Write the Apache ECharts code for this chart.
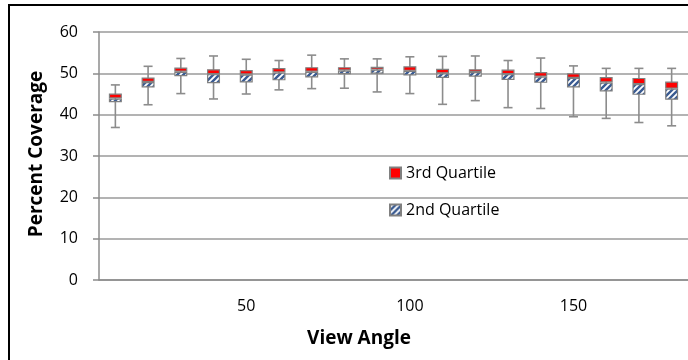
<!DOCTYPE html>
<html>
<head>
<meta charset="utf-8">
<script src="https://cdn.jsdelivr.net/npm/echarts@6/dist/echarts.min.js"></script>
<style>html,body{margin:0;padding:0;background:#fff;}#c{width:688px;height:360px;}</style>
</head>
<body>
<div id="c"></div>
<script>
var angles = ['10','20','30','40','50','60','70','80','90','100','110','120','130','140','150','160','170','180'];
var whiskerHigh = [47.2, 51.7, 53.6, 54.2, 53.4, 53.1, 54.4, 53.5, 53.5, 54.0, 54.1, 54.2, 53.1, 53.7, 51.8, 51.2, 51.2, 51.2];
var whiskerLow  = [36.9, 42.4, 45.1, 43.8, 45.0, 46.0, 46.3, 46.4, 45.5, 45.1, 42.5, 43.4, 41.7, 41.5, 39.5, 39.1, 38.1, 37.3];
var q3     = [45.1, 49.0, 51.4, 51.0, 50.8, 51.3, 51.5, 51.5, 51.6, 51.7, 51.1, 51.0, 50.9, 50.3, 50.0, 49.1, 48.9, 48.0];
var median = [43.9, 47.9, 50.4, 49.8, 49.7, 50.2, 50.4, 50.7, 50.9, 50.6, 50.0, 50.3, 49.8, 49.2, 48.9, 47.8, 47.4, 46.3];
var q1     = [43.0, 46.6, 49.3, 47.6, 47.8, 48.3, 49.0, 49.8, 49.9, 49.5, 48.9, 49.2, 48.4, 47.7, 46.6, 45.6, 44.8, 43.6];
var xTickLabels = ['50','100','150'];
var yTicks = [0,10,20,30,40,50,60];

var FONT = '"Open Sans", sans-serif';
var hatch = document.createElement('canvas');
hatch.width = 6; hatch.height = 6;
(function(){
  var g = hatch.getContext('2d');
  g.fillStyle = '#ffffff'; g.fillRect(0,0,6,6);
  g.strokeStyle = '#3a5b92'; g.lineWidth = 2.4;
  g.beginPath();
  g.moveTo(-3,3); g.lineTo(3,-3);
  g.moveTo(0,6); g.lineTo(6,0);
  g.moveTo(3,9); g.lineTo(9,3);
  g.stroke();
})();

var secondQ = q1.map(function(v,i){ return +(median[i]-v).toFixed(2); });
var thirdQ = median.map(function(v,i){ return +(q3[i]-v).toFixed(2); });

var chart = echarts.init(document.getElementById('c'), null, {renderer:'canvas'});
chart.setOption({
  animation: false,
  backgroundColor: '#ffffff',
  textStyle: {fontFamily: FONT},
  grid: {left: 99, right: 0, top: 32, bottom: 80},
  legend: {
    orient: 'vertical', left: 389, top: 165, padding: 0,
    itemWidth: 11, itemHeight: 11, itemGap: 21,
    icon: 'rect',
    data: ['3rd Quartile', '2nd Quartile'],
    textStyle: {fontFamily: FONT, fontSize: 16, color: '#000', lineHeight: 16, padding:[0,0,0,0]}
  },
  xAxis: {
    type: 'category', data: angles,
    axisTick: {show: false},
    axisLine: {lineStyle: {color: '#8c8c8c', width: 1.5}},
    axisLabel: {
      interval: 0, margin: 18, fontSize: 16, color: '#000', fontFamily: FONT,
      formatter: function(v){ return xTickLabels.indexOf(v) >= 0 ? v : ''; }
    },
    splitLine: {show: false}
  },
  yAxis: {
    type: 'value', min: yTicks[0], max: yTicks[yTicks.length-1], interval: 10,
    axisLine: {show: true, lineStyle: {color: '#8c8c8c', width: 1.5}},
    axisTick: {show: true, length: 6, lineStyle: {color: '#8c8c8c', width: 1.5}},
    axisLabel: {margin: 21, fontSize: 16, color: '#000', fontFamily: FONT},
    splitLine: {lineStyle: {color: '#9a9a9a', width: 1.5}}
  },
  graphic: [
    {type: 'rect', shape: {x: 9, y: 5, width: 760, height: 400}, style: {fill: 'none', stroke: '#000', lineWidth: 2}, silent: true},
    {type: 'text', x: 37, y: 154, rotation: Math.PI/2, style: {text: 'Percent Coverage', fontFamily: FONT, fontSize: 19, fontWeight: 'bold', fill: '#000', textAlign: 'center', textVerticalAlign: 'middle'}},
    {type: 'text', x: 359, y: 339, style: {text: 'View Angle', fontFamily: FONT, fontSize: 19, fontWeight: 'bold', fill: '#000', textAlign: 'center', textVerticalAlign: 'middle'}}
  ],
  series: [
    {
      name: 'whiskers', type: 'custom', z: 1,
      renderItem: function(params, api){
        var i = api.value(0);
        var pHi = api.coord([i, api.value(2)]);
        var pLo = api.coord([i, api.value(1)]);
        var cw = 4.5;
        var st = {stroke: '#8c8c8c', lineWidth: 1.6};
        return {type: 'group', children: [
          {type: 'line', shape: {x1: pHi[0], y1: pHi[1], x2: pLo[0], y2: pLo[1]}, style: st},
          {type: 'line', shape: {x1: pHi[0]-cw, y1: pHi[1], x2: pHi[0]+cw, y2: pHi[1]}, style: st},
          {type: 'line', shape: {x1: pLo[0]-cw, y1: pLo[1], x2: pLo[0]+cw, y2: pLo[1]}, style: st}
        ]};
      },
      encode: {x: 0, y: [1, 2]},
      data: angles.map(function(a, i){ return [i, whiskerLow[i], whiskerHigh[i]]; })
    },
    {
      name: 'base', type: 'bar', stack: 'box', barWidth: 13, silent: true, z: 2,
      itemStyle: {color: 'rgba(0,0,0,0)'},
      data: q1
    },
    {
      name: '2nd Quartile', type: 'bar', stack: 'box', barWidth: 13, z: 3,
      itemStyle: {color: {image: hatch, repeat: 'repeat'}, borderColor: '#808080', borderWidth: 1.2},
      data: secondQ
    },
    {
      name: '3rd Quartile', type: 'bar', stack: 'box', barWidth: 13, z: 3,
      itemStyle: {color: '#ff0000', borderColor: '#808080', borderWidth: 1.2},
      data: thirdQ
    }
  ]
});
</script>
</body>
</html>
